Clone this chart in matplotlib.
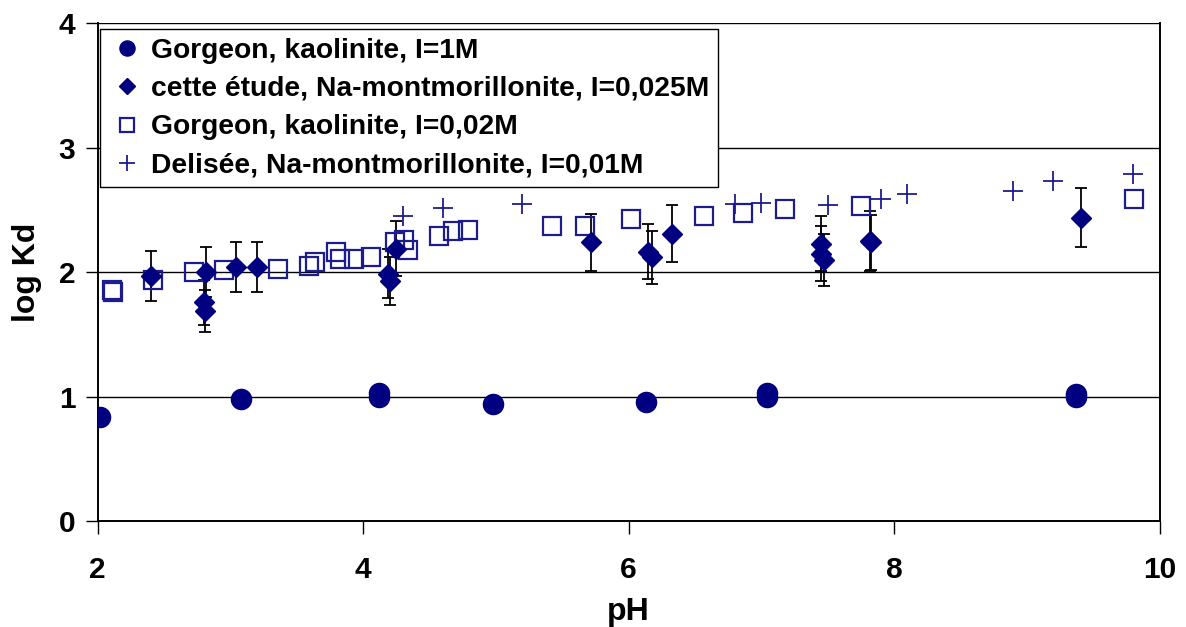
import numpy as np
import matplotlib
matplotlib.use('Agg')
import matplotlib.pyplot as plt

plt.rcParams['font.family'] = ['Liberation Sans', 'DejaVu Sans']
plt.rcParams['font.weight'] = 'bold'

# Gorgeon, kaolinite, I=1M
ph_k1 = [2.02, 3.08, 4.12, 4.12, 4.98, 6.13, 7.04, 7.04, 9.37, 9.37]
kd_k1 = [0.84, 0.985, 1.00, 1.03, 0.94, 0.96, 1.00, 1.03, 1.00, 1.02]

# cette etude, Na-montmorillonite, I=0,025M
ph_me = [2.40, 2.80, 2.81, 2.82, 3.04, 3.20, 4.19, 4.20, 4.25, 5.72,
         6.15, 6.18, 6.33, 7.45, 7.45, 7.47, 7.82, 7.83, 9.41]
kd_me = [1.97, 1.76, 1.69, 2.00, 2.045, 2.045, 1.99, 1.93, 2.19, 2.24,
         2.165, 2.12, 2.31, 2.23, 2.15, 2.10, 2.25, 2.24, 2.44]
err_me = [0.20, 0.18, 0.17, 0.20, 0.20, 0.20, 0.20, 0.19, 0.22, 0.23,
          0.22, 0.21, 0.23, 0.22, 0.22, 0.21, 0.24, 0.22, 0.24]

# Gorgeon, kaolinite, I=0,02M
ph_k2 = [2.11, 2.12, 2.42, 2.73, 2.95, 3.36, 3.59, 3.64, 3.80, 3.83,
         3.93, 4.06, 4.24, 4.31, 4.34, 4.57, 4.68, 4.79, 5.42, 5.67,
         6.02, 6.57, 6.86, 7.18, 7.75, 9.81]
kd_k2 = [1.86, 1.845, 1.94, 2.005, 2.02, 2.03, 2.05, 2.08, 2.16, 2.11,
         2.11, 2.125, 2.245, 2.26, 2.18, 2.29, 2.33, 2.34, 2.37, 2.37,
         2.43, 2.45, 2.48, 2.51, 2.53, 2.59]

# Delisee, Na-montmorillonite, I=0,01M
ph_de = [4.30, 4.60, 5.20, 6.80, 7.00, 7.50, 7.90, 8.10, 8.90, 9.20, 9.80]
kd_de = [2.45, 2.52, 2.545, 2.545, 2.56, 2.54, 2.59, 2.63, 2.65, 2.73, 2.79]

labels = ['Gorgeon, kaolinite, I=1M',
          'cette étude, Na-montmorillonite, I=0,025M',
          'Gorgeon, kaolinite, I=0,02M',
          'Delisée, Na-montmorillonite, I=0,01M']

navy = '#000080'

fig = plt.figure(figsize=(11.86, 6.27), dpi=100)
ax = fig.add_axes([97.5 / 1186, 1 - 521.3 / 627, (1159.5 - 97.5) / 1186, (521.3 - 23.3) / 627])

ax.yaxis.grid(True, color='black', lw=1.0)
ax.set_axisbelow(True)

h1, = ax.plot(ph_k1, kd_k1, 'o', ms=14.5, color=navy, mec=navy, zorder=4)
ax.errorbar(ph_me, kd_me, yerr=err_me, fmt='none', ecolor='black',
            elinewidth=1.3, capsize=4, capthick=1.3, zorder=3)
h2, = ax.plot(ph_me, kd_me, 'D', ms=10.5, color=navy, mec=navy, zorder=5)
h3, = ax.plot(ph_k2, kd_k2, 's', ms=13.5, mfc='none', mec='#1c1c8e', mew=1.6, zorder=4)
h4, = ax.plot(ph_de, kd_de, '+', ms=15, mec='#1c1c8e', mew=1.3, zorder=4)

ax.set_xlim(2, 10)
ax.set_ylim(0, 4)
ax.set_xticks([2, 4, 6, 8, 10])
ax.set_yticks([0, 1, 2, 3, 4])
ax.tick_params(axis='both', direction='out', length=9, width=1, labelsize=21.5, colors='black')
ax.tick_params(axis='x', pad=16)
ax.tick_params(axis='y', pad=7)
for s in ['left', 'bottom', 'right']:
    ax.spines[s].set_color('black')
    ax.spines[s].set_linewidth(1.4)
ax.spines['top'].set_visible(False)

ax.set_xlabel('pH', fontsize=23, fontweight='bold', labelpad=9)
ax.set_ylabel('log Kd', fontsize=23, fontweight='bold', labelpad=12)

leg = ax.legend([h1, h2, h3, h4], labels, loc='upper left', bbox_to_anchor=(0.0, 0.994),
                fontsize=20.3, frameon=True, fancybox=False, edgecolor='black',
                framealpha=1, markerscale=0.75, handlelength=1.3, handletextpad=0.2,
                labelspacing=0.44, borderpad=0.3, borderaxespad=0.1)
leg.get_frame().set_linewidth(1.0)
for t in leg.get_texts():
    t.set_fontweight('bold')

fig.savefig('out.png', dpi=100)
